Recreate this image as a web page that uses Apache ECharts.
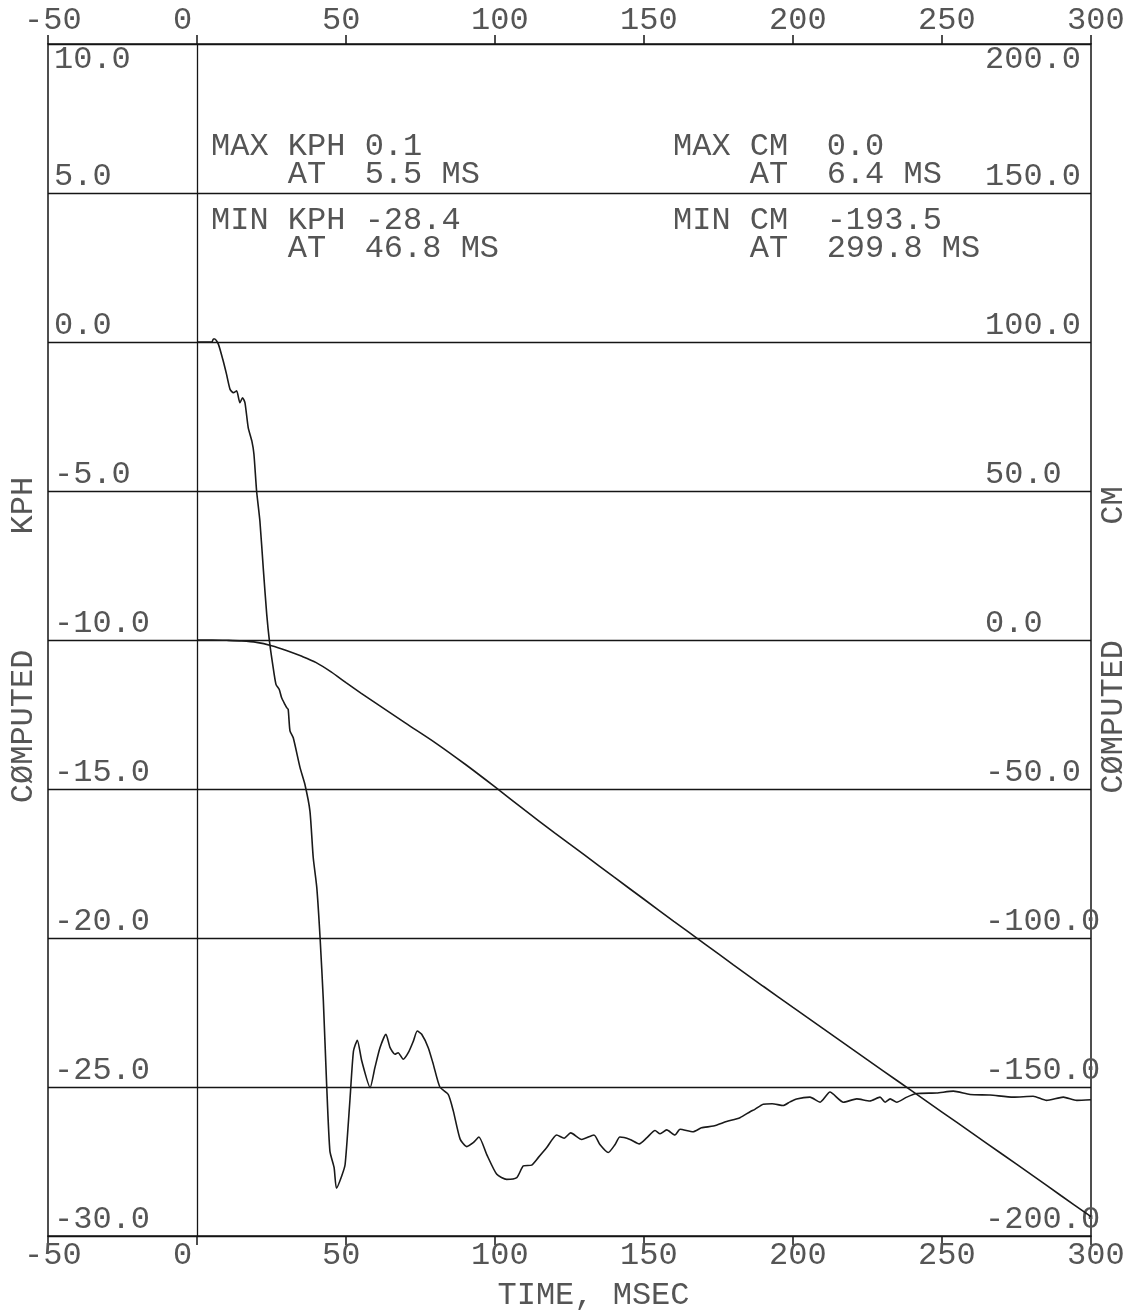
<!DOCTYPE html>
<html>
<head>
<meta charset="utf-8">
<script src="https://cdn.jsdelivr.net/npm/echarts@6.0.0/dist/echarts.min.js"></script>
<style>
  html, body { margin: 0; padding: 0; background: #ffffff; }
  #chart { width: 1134px; height: 1315px; }
</style>
</head>
<body>
<div id="chart"></div>
<script>
// ---- data ----
const kphTime = [0, 3, 5, 5.5, 6.0, 7.2, 8.8, 9.9, 11.1, 12.2, 13.3, 14.4, 15.3, 16.1, 17.2, 18.4, 19.1, 20.0, 21.1, 22.3, 23.4, 24.3, 25.4, 26.5, 27.6, 28.4, 29.5, 30.1, 30.6, 31.2, 32.3, 34.6, 36.2, 37.9, 39.0, 40.2, 41.3, 42.4, 43.5, 44.6, 46.0, 46.8, 48.5, 49.7, 51.3, 52.5, 53.8, 55.3, 58.1, 59.7, 61.4, 63.4, 64.8, 66.4, 67.5, 69.2, 70.9, 72.6, 73.9, 75.4, 77.6, 79.3, 81.5, 84.3, 86.0, 88.3, 90.5, 92.7, 94.6, 97.2, 100.6, 103.9, 107.3, 109.5, 112.3, 114.5, 117.3, 120.7, 123.2, 125.4, 129.1, 133.2, 135.2, 138.0, 140.3, 141.9, 145.3, 148.4, 150.9, 153.7, 155.4, 157.6, 160.4, 162.1, 166.5, 169.3, 173.3, 177.7, 182.2, 185.6, 187.2, 190.0, 193.0, 196.7, 199.0, 201.2, 205.7, 209.1, 212.4, 216.9, 221.4, 225.8, 229.2, 230.9, 232.6, 234.8, 238.2, 241.5, 248.2, 253.8, 259.4, 266.1, 273.9, 280.6, 285.1, 290.7, 295.2, 300];
const kphValue = [0, 0, 0, 0.1, 0.1, -0.08, -0.64, -1.08, -1.59, -1.70, -1.64, -2.04, -1.87, -2.04, -2.88, -3.32, -3.76, -5.0, -6.0, -7.68, -9.14, -10.03, -10.82, -11.49, -11.66, -11.94, -12.16, -12.27, -12.33, -13.05, -13.28, -14.29, -14.84, -15.74, -17.30, -18.31, -19.99, -22.11, -24.91, -27.15, -27.7, -28.4, -28.0, -27.6, -25.47, -23.8, -23.43, -24.13, -25.02, -24.35, -23.68, -23.23, -23.68, -23.90, -23.85, -24.07, -23.85, -23.46, -23.12, -23.23, -23.68, -24.24, -25.0, -25.25, -25.8, -26.75, -27.0, -26.87, -26.68, -27.26, -27.93, -28.10, -28.04, -27.65, -27.62, -27.37, -27.04, -26.61, -26.72, -26.54, -26.76, -26.61, -26.93, -27.20, -26.93, -26.68, -26.76, -26.91, -26.71, -26.46, -26.57, -26.44, -26.61, -26.42, -26.50, -26.37, -26.31, -26.16, -26.03, -25.83, -25.75, -25.58, -25.56, -25.62, -25.5, -25.40, -25.34, -25.51, -25.17, -25.51, -25.40, -25.47, -25.34, -25.51, -25.40, -25.51, -25.34, -25.22, -25.20, -25.14, -25.25, -25.27, -25.34, -25.31, -25.45, -25.34, -25.45, -25.43];

const cmTime = [0, 5, 10, 15, 20, 25, 30, 35, 40, 45, 50, 55, 60, 70, 80, 90, 100, 110, 120, 130, 140, 150, 160, 170, 180, 190, 200, 210, 220, 230, 240, 250, 260, 270, 280, 290, 300];
const cmValue = [0, 0, -0.1, -0.3, -0.8, -1.9, -3.5, -5.4, -7.6, -10.7, -14.3, -17.8, -21.2, -27.9, -34.5, -41.7, -49.3, -57.1, -64.7, -72.1, -79.6, -87.0, -94.4, -101.7, -109.0, -116.2, -123.3, -130.3, -137.4, -144.4, -151.4, -158.4, -165.4, -172.4, -179.4, -186.5, -193.5];

const timeAxis = { min: -50, max: 300, interval: 50 };
const kphAxis = { min: -30, max: 10, interval: 5 };
const cmAxis = { min: -200, max: 200, interval: 50 };

const xAxisTitle = 'TIME, MSEC';
const leftAxisTitle = 'CØMPUTED      KPH';
const rightAxisTitle = 'CØMPUTED      CM';

const kphNotes = 'MAX KPH 0.1\n    AT  5.5 MS';
const kphNotes2 = 'MIN KPH -28.4\n    AT  46.8 MS';
const cmNotes = 'MAX CM  0.0\n    AT  6.4 MS';
const cmNotes2 = 'MIN CM  -193.5\n    AT  299.8 MS';

// ---- chart ----
const FONT = '"Liberation Mono", "DejaVu Sans Mono", monospace';
const TXT = '#555555';
const LINE = '#151515';
const FS = 32;

const chart = echarts.init(document.getElementById('chart'), null, { renderer: 'canvas' });

function xAxisDef(position, margin, withName) {
  const a = {
    type: 'value',
    position: position,
    min: timeAxis.min, max: timeAxis.max, interval: timeAxis.interval,
    axisLine: { show: true, onZero: false, lineStyle: { color: LINE, width: 1.5 } },
    axisTick: { show: true, inside: false, length: 9, lineStyle: { color: LINE, width: 1.5 } },
    axisLabel: {
      show: true, margin: margin, fontFamily: FONT, fontSize: FS, color: TXT,
      align: 'left', padding: [0, 0, 0, -24],
      formatter: v => String(v)
    },
    splitLine: { show: false }
  };
  if (withName) {
    a.name = xAxisTitle;
    a.nameLocation = 'middle';
    a.nameGap = 44;
    a.nameMoveOverlap = false;
    a.nameTextStyle = { fontFamily: FONT, fontSize: FS, color: TXT, padding: [0, 0, 0, 48] };
  }
  return a;
}

const option = {
  backgroundColor: '#ffffff',
  animation: false,
  grid: { left: 48, right: 43, top: 44, bottom: 79, containLabel: false, outerBoundsMode: 'none' },
  xAxis: [ xAxisDef('bottom', 4, true), xAxisDef('top', 7, false) ],
  yAxis: [
    {
      type: 'value', position: 'left',
      min: kphAxis.min, max: kphAxis.max, interval: kphAxis.interval,
      axisLine: { show: true, onZero: false, lineStyle: { color: LINE, width: 1.5 } },
      axisTick: { show: false },
      axisLabel: {
        inside: true, margin: 6, align: 'left', verticalAlign: 'bottom',
        verticalAlignMaxLabel: 'top',
        fontFamily: FONT, fontSize: FS, color: TXT,
        formatter: v => v.toFixed(1)
      },
      splitLine: { show: true, lineStyle: { color: LINE, width: 1.3, type: 'solid' } },
      name: leftAxisTitle, nameLocation: 'middle', nameRotate: 90, nameGap: 8,
      nameMoveOverlap: false,
      nameTextStyle: { fontFamily: FONT, fontSize: FS, color: TXT }
    },
    {
      type: 'value', position: 'right',
      min: cmAxis.min, max: cmAxis.max, interval: cmAxis.interval,
      axisLine: { show: true, onZero: false, lineStyle: { color: LINE, width: 1.5 } },
      axisTick: { show: false },
      axisLabel: {
        inside: true, margin: 106, align: 'left', verticalAlign: 'bottom',
        verticalAlignMaxLabel: 'top',
        fontFamily: FONT, fontSize: FS, color: TXT,
        formatter: v => v.toFixed(1)
      },
      splitLine: { show: false },
      name: rightAxisTitle, nameLocation: 'middle', nameRotate: 90, nameGap: 7,
      nameMoveOverlap: false,
      nameTextStyle: { fontFamily: FONT, fontSize: FS, color: TXT }
    }
  ],
  graphic: [
    { type: 'text', left: 211, top: 131, silent: true,
      style: { text: kphNotes, font: FS + 'px ' + FONT, fill: TXT, lineHeight: 28 } },
    { type: 'text', left: 211, top: 205, silent: true,
      style: { text: kphNotes2, font: FS + 'px ' + FONT, fill: TXT, lineHeight: 28 } },
    { type: 'text', left: 673, top: 131, silent: true,
      style: { text: cmNotes, font: FS + 'px ' + FONT, fill: TXT, lineHeight: 28 } },
    { type: 'text', left: 673, top: 205, silent: true,
      style: { text: cmNotes2, font: FS + 'px ' + FONT, fill: TXT, lineHeight: 28 } }
  ],
  series: [
    {
      name: 'KPH', type: 'line', xAxisIndex: 0, yAxisIndex: 0,
      data: kphTime.map((t, i) => [t, kphValue[i]]),
      showSymbol: false, smooth: 0.2,
      lineStyle: { color: '#1a1a1a', width: 1.6 },
      markLine: {
        silent: true, symbol: ['none', 'none'], label: { show: false },
        lineStyle: { color: LINE, width: 1.3, type: 'solid' },
        data: [{ xAxis: 0 }]
      }
    },
    {
      name: 'CM', type: 'line', xAxisIndex: 0, yAxisIndex: 1,
      data: cmTime.map((t, i) => [t, cmValue[i]]),
      showSymbol: false, smooth: 0.3,
      lineStyle: { color: '#1a1a1a', width: 1.6 }
    }
  ]
};

chart.setOption(option);
</script>
</body>
</html>
